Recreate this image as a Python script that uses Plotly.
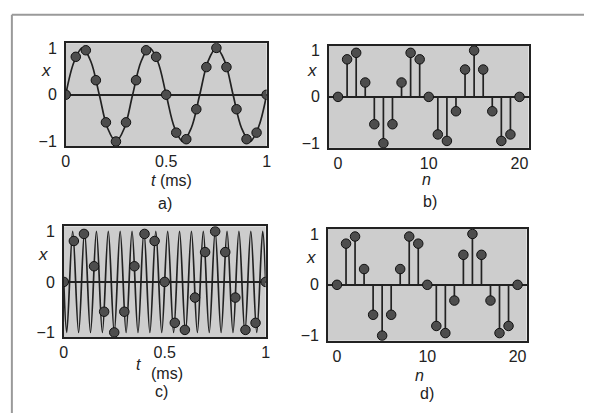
import plotly.graph_objects as go

W, H = 589, 417

# continuous 3 kHz tone (panel a)
t_a_curve = [0, 0.042, 0.083, 0.125, 0.167, 0.208, 0.25, 0.292, 0.333, 0.375, 0.417, 0.458,
             0.5, 0.542, 0.583, 0.625, 0.667, 0.708, 0.75, 0.792, 0.833, 0.875, 0.917, 0.958, 1.0]
x_a_curve = [0, 0.71, 1, 0.71, 0, -0.71, -1, -0.71, 0, 0.71, 1, 0.71,
             0, -0.71, -1, -0.71, 0, 0.71, 1, 0.71, 0, -0.71, -1, -0.71, 0]

# continuous 17 kHz tone (panel c): crests and troughs
t_c_curve = [0, 0.0147, 0.0441, 0.0735, 0.1029, 0.1324, 0.1618, 0.1912, 0.2206, 0.25, 0.2794,
             0.3088, 0.3382, 0.3676, 0.3971, 0.4265, 0.4559, 0.4853, 0.5147, 0.5441, 0.5735,
             0.6029, 0.6324, 0.6618, 0.6912, 0.7206, 0.75, 0.7794, 0.8088, 0.8382, 0.8676,
             0.8971, 0.9265, 0.9559, 0.9853, 1.0]
x_c_curve = [0, -1, 1, -1, 1, -1, 1, -1, 1, -1, 1, -1, 1, -1, 1, -1, 1, -1, 1, -1, 1,
             -1, 1, -1, 1, -1, 1, -1, 1, -1, 1, -1, 1, -1, 1, 0]

# samples (same for both tones)
n_samples = list(range(21))
t_samples = [0, 0.05, 0.1, 0.15, 0.2, 0.25, 0.3, 0.35, 0.4, 0.45, 0.5,
             0.55, 0.6, 0.65, 0.7, 0.75, 0.8, 0.85, 0.9, 0.95, 1.0]
x_samples = [0, 0.81, 0.95, 0.31, -0.59, -1.0, -0.59, 0.31, 0.95, 0.81, 0,
             -0.81, -0.95, -0.31, 0.59, 1.0, 0.59, -0.31, -0.95, -0.81, 0]

FONT = "Liberation Sans"
INK = "#222222"
DOT = dict(size=9.5, color="#4d4d4d", line=dict(color="#111111", width=1))


def px(x):
    return x / W


def py(y):
    return 1 - y / H


def stems(n, x):
    xs, ys = [], []
    for a, b in zip(n, x):
        xs += [a, a, None]
        ys += [0, b, None]
    return xs, ys


fig = go.Figure()

# a)
fig.add_trace(go.Scatter(x=t_a_curve, y=x_a_curve, mode="lines", line=dict(color=INK, width=1.7, shape="spline"),
                         xaxis="x", yaxis="y"))
fig.add_trace(go.Scatter(x=t_samples, y=x_samples, mode="markers", marker=DOT, xaxis="x", yaxis="y"))

# b)
sx, sy = stems(n_samples, x_samples)
fig.add_trace(go.Scatter(x=sx, y=sy, mode="lines", line=dict(color=INK, width=1.7), xaxis="x2", yaxis="y2"))
fig.add_trace(go.Scatter(x=n_samples, y=x_samples, mode="markers", marker=DOT, xaxis="x2", yaxis="y2"))

# c)
fig.add_trace(go.Scatter(x=t_c_curve, y=x_c_curve, mode="lines", line=dict(color=INK, width=1.7, shape="spline"),
                         xaxis="x3", yaxis="y3"))
fig.add_trace(go.Scatter(x=t_samples, y=x_samples, mode="markers", marker=DOT, xaxis="x3", yaxis="y3"))

# d)
fig.add_trace(go.Scatter(x=sx, y=sy, mode="lines", line=dict(color=INK, width=1.7), xaxis="x4", yaxis="y4"))
fig.add_trace(go.Scatter(x=n_samples, y=x_samples, mode="markers", marker=DOT, xaxis="x4", yaxis="y4"))

tickfont = dict(family=FONT, size=16, color=INK)


def xax(dom, rng, tv, anchor):
    return dict(domain=dom, range=rng, tickvals=tv, anchor=anchor, showgrid=False, zeroline=False,
                showline=True, mirror=True, linecolor=INK, linewidth=1.5, ticks="", tickfont=tickfont,
                ticklabelstandoff=0)


def yax(dom, anchor):
    return dict(domain=dom, range=[-1.1, 1.1], tickvals=[-1, 0, 1], anchor=anchor, showgrid=False,
                zeroline=True, zerolinecolor=INK, zerolinewidth=1.6, showline=True, mirror=True,
                linecolor=INK, linewidth=1.5, ticks="", tickfont=tickfont, ticklabelstandoff=4)


fig.update_layout(
    width=W, height=H, autosize=False, showlegend=False,
    margin=dict(l=0, r=0, t=0, b=0),
    paper_bgcolor="white", plot_bgcolor="#cdcdcd",
    xaxis=xax([px(62.7), px(266.7)], [0, 1], [0, 0.5, 1], "y"),
    yaxis=yax([py(145), py(40)], "x"),
    xaxis2=xax([px(330), px(532.7)], [-1, 21], [0, 10, 20], "y2"),
    yaxis2=yax([py(146.7), py(42.7)], "x2"),
    xaxis3=xax([px(60.7), px(265.7)], [0, 1], [0, 0.5, 1], "y3"),
    yaxis3=yax([py(340), py(226.7)], "x3"),
    xaxis4=xax([px(329), px(530.7)], [-1, 21], [0, 10, 20], "y4"),
    yaxis4=yax([py(343.3), py(229.3)], "x4"),
)

labels = [
    ("<i>x</i>", 43, 68, 17), ("<i>x</i>", 313, 68, 17), ("<i>x</i>", 40, 255, 17), ("<i>x</i>", 312, 258, 17),
    ("<i>t</i> (ms)", 170, 180, 16), ("<i>n</i>", 429, 179, 16),
    ("<i>t</i>", 137, 368, 16), ("(ms)", 166, 377, 16), ("<i>n</i>", 422, 379, 16),
    ("a)", 163, 203, 16), ("b)", 433, 201, 16), ("c)", 160, 395, 16), ("d)", 430, 397, 16),
]
for text, x, y, s in labels:
    fig.add_annotation(text=text, x=px(x), y=py(y), xref="paper", yref="paper", showarrow=False,
                       xanchor="center", yanchor="middle", font=dict(family=FONT, size=s, color=INK))

# scanned page frame
fig.add_shape(type="line", xref="paper", yref="paper", x0=px(8), x1=1, y0=py(11), y1=py(11),
              line=dict(color="#9a9a9a", width=2))
fig.add_shape(type="line", xref="paper", yref="paper", x0=px(8), x1=px(8), y0=0, y1=py(11),
              line=dict(color="#9a9a9a", width=2))

fig.write_html("out.html", config={"displayModeBar": False},
               post_script="document.body.style.margin='0';")
